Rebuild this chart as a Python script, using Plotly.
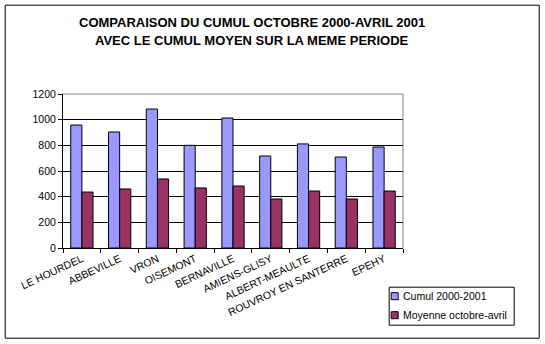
import plotly.graph_objects as go

stations = ["LE HOURDEL", "ABBEVILLE", "VRON", "OISEMONT", "BERNAVILLE",
            "AMIENS-GLISY", "ALBERT-MEAULTE", "ROUVROY EN SANTERRE", "EPEHY"]
cumul_2000_2001 = [958, 904, 1083, 800, 1013, 717, 811, 709, 787]
moyenne_oct_avr = [436, 460, 538, 468, 483, 382, 444, 382, 444]
y_ticks = [0, 200, 400, 600, 800, 1000, 1200]

series_names = ["Cumul 2000-2001", "Moyenne octobre-avril"]
series_colors = ["#9999FF", "#993366"]

W, H = 545, 344
L, R, T, B = 63.3, 141.7, 94.3, 95.7
pw, ph = W - L - R, H - T - B

def px(x):
    return (x - L) / pw

def py(y):
    return (H - B - y) / ph

FONT = "Arial, Liberation Sans, sans-serif"

fig = go.Figure()
for name, vals, col in zip(series_names, [cumul_2000_2001, moyenne_oct_avr], series_colors):
    fig.add_trace(go.Bar(name=name, x=stations, y=vals, showlegend=False,
                         marker=dict(color=col, line=dict(color="black", width=1))))

shapes = [
    # gray frame on top and right of the plotting area
    dict(type="line", xref="paper", yref="paper", x0=0, x1=1, y0=1, y1=1,
         line=dict(color="#808080", width=1)),
    dict(type="line", xref="paper", yref="paper", x0=1, x1=1, y0=0, y1=1,
         line=dict(color="#808080", width=1)),
    # outer chart border
    dict(type="rect", xref="paper", yref="paper",
         x0=px(5.5), x1=px(539.5), y0=py(338.5), y1=py(5.5),
         line=dict(color="black", width=1), layer="below"),
    # legend box
    dict(type="rect", xref="paper", yref="paper",
         x0=px(389.5), x1=px(514.5), y0=py(325.5), y1=py(287.5),
         line=dict(color="black", width=1), fillcolor="white", layer="below"),
]
annotations = []
for i, (name, col) in enumerate(zip(series_names, series_colors)):
    cy = 296.5 + i * 19
    shapes.append(dict(type="rect", xref="paper", yref="paper",
                       x0=px(391.5), x1=px(398.5), y0=py(cy + 3.5), y1=py(cy - 3.5),
                       line=dict(color="black", width=1), fillcolor=col))
    annotations.append(dict(text=name, xref="paper", yref="paper",
                            x=px(401), y=py(cy), xanchor="left", yanchor="middle",
                            showarrow=False, font=dict(family=FONT, size=10.5)))

# two-line bold title
title_lines = ["COMPARAISON DU CUMUL OCTOBRE 2000-AVRIL 2001",
               "AVEC LE CUMUL MOYEN SUR LA MEME PERIODE"]
for i, line in enumerate(title_lines):
    annotations.append(dict(text=f"<b>{line}</b>", xref="paper", yref="paper",
                            x=px(252.5), y=py(22.5 + i * 18), xanchor="center",
                            yanchor="middle", showarrow=False,
                            font=dict(family=FONT, size=13, color="black")))

fig.update_layout(
    width=W, height=H,
    margin=dict(l=L, r=R, t=T, b=B, autoexpand=False),
    paper_bgcolor="white", plot_bgcolor="white",
    barmode="group", bargap=0.41, bargroupgap=0,
    font=dict(family=FONT, size=10.5, color="black"),
    showlegend=False,
    xaxis=dict(
        type="category", tickson="boundaries", ticks="outside", ticklen=4,
        tickcolor="black", showline=True, linecolor="black", linewidth=1,
        showgrid=False, tickangle=-25, fixedrange=True,
    ),
    yaxis=dict(
        range=[0, 1200], tickvals=y_ticks, ticks="outside", ticklen=4,
        tickcolor="black", showline=True, linecolor="black", linewidth=1,
        showgrid=True, gridcolor="black", gridwidth=1, zeroline=False,
        fixedrange=True,
    ),
    shapes=shapes,
    annotations=annotations,
)

fig.write_html("out.html")
